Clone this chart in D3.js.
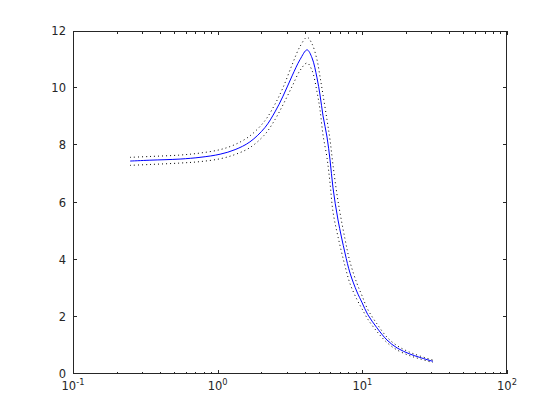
<!DOCTYPE html>
<html>
<head>
<meta charset="utf-8">
<script src="https://cdn.jsdelivr.net/npm/d3@7"></script>
<style>
  html, body { margin: 0; padding: 0; background: #fff; }
  svg { display: block; }
  text { font-family: "DejaVu Sans", sans-serif; fill: #262626; }
</style>
</head>
<body>
<svg id="chart" width="560" height="420"></svg>
<script>
// ---- data ----
const freq = [0.248, 0.340, 0.550, 0.755, 1.04, 1.32, 1.67, 2.12, 2.49, 2.83, 3.27, 3.71, 4.15, 4.49,
  4.86, 5.10, 5.35, 5.70, 5.98, 6.27, 6.79, 7.59, 8.22, 9.19, 9.95, 10.9, 12.6, 14.8, 17.4, 21.3, 25.0, 30.8];
const magnitude = [7.45, 7.48, 7.52, 7.58, 7.69, 7.85, 8.12, 8.62, 9.17, 9.72, 10.43, 11.00, 11.34, 11.06,
  10.36, 9.76, 9.03, 8.29, 7.49, 6.51, 5.39, 4.23, 3.53, 2.87, 2.50, 2.08, 1.62, 1.19, 0.91, 0.70, 0.58, 0.44];
const upperBound = [7.58, 7.61, 7.66, 7.73, 7.85, 8.03, 8.33, 8.86, 9.44, 10.02, 10.82, 11.46, 11.78, 11.55,
  10.99, 10.40, 9.76, 8.89, 8.19, 7.31, 6.05, 4.72, 3.92, 3.16, 2.74, 2.26, 1.76, 1.29, 0.99, 0.76, 0.63, 0.48];
const lowerBound = [7.30, 7.33, 7.38, 7.43, 7.53, 7.68, 7.92, 8.38, 8.90, 9.42, 10.06, 10.62, 10.88, 10.62,
  9.87, 9.24, 8.36, 7.56, 6.68, 5.67, 4.80, 3.78, 3.16, 2.60, 2.28, 1.92, 1.49, 1.10, 0.84, 0.64, 0.53, 0.40];

const xMajorTicks = [0.1, 1, 10, 100];
const xTickExponents = ["-1", "0", "1", "2"];
const yTicks = [0, 2, 4, 6, 8, 10, 12];

// ---- layout ----
const svg = d3.select("#chart");
const L = 73, R = 507, T = 31, B = 374;
const x = d3.scaleLog().domain([0.1, 100]).range([L, R]);
const y = d3.scaleLinear().domain([0, 12]).range([B, T]);
const axisColor = "#262626";
const majorLen = 4.3, minorLen = 2.5;

// minor ticks for log axis
const xMinor = [];
for (let d = 0.1; d < 100; d *= 10) {
  for (let k = 2; k <= 9; k++) xMinor.push(d * k);
}

const g = svg.append("g");

// ---- data lines ----
const lineGen = (vals) => d3.line()
  .x((d, i) => x(freq[i]))
  .y(d => y(d))
  .curve(d3.curveCatmullRom.alpha(0.5))(vals);

g.append("path").attr("d", lineGen(upperBound))
  .attr("fill", "none").attr("stroke", "#000").attr("stroke-width", 1)
  .attr("stroke-dasharray", "1,3");
g.append("path").attr("d", lineGen(lowerBound))
  .attr("fill", "none").attr("stroke", "#000").attr("stroke-width", 1)
  .attr("stroke-dasharray", "1,3");
g.append("path").attr("d", lineGen(magnitude))
  .attr("fill", "none").attr("stroke", "#0000ff").attr("stroke-width", 1);

// ---- axes (box with inward ticks) ----
const ax = svg.append("g").attr("stroke", axisColor).attr("stroke-width", 1).attr("shape-rendering", "crispEdges");
ax.append("rect").attr("x", L + 0.5).attr("y", T + 0.5).attr("width", R - L - 1).attr("height", B - T - 1)
  .attr("fill", "none");

// x ticks: bottom and top
function xTick(v, len) {
  const px = Math.round(x(v)) + 0.5;
  ax.append("line").attr("x1", px).attr("x2", px).attr("y1", B).attr("y2", B - len);
  ax.append("line").attr("x1", px).attr("x2", px).attr("y1", T).attr("y2", T + len);
}
xMajorTicks.forEach(v => xTick(v, majorLen));
xMinor.forEach(v => xTick(v, minorLen));

// y ticks: left and right
yTicks.forEach(v => {
  const py = Math.round(y(v)) - 0.5;
  if (v === 0 || v === 12) return;
  ax.append("line").attr("x1", L).attr("x2", L + majorLen).attr("y1", py).attr("y2", py);
  ax.append("line").attr("x1", R).attr("x2", R - majorLen).attr("y1", py).attr("y2", py);
});

// ---- tick labels ----
const fs = 11.5;
yTicks.forEach(v => {
  svg.append("text")
    .attr("x", L - 7).attr("y", y(v)).attr("dy", "0.36em")
    .attr("text-anchor", "end").attr("font-size", fs)
    .text(d3.format("d")(v));
});

xMajorTicks.forEach((v, i) => {
  const t = svg.append("text")
    .attr("x", x(v)).attr("y", B + 16)
    .attr("text-anchor", "middle").attr("font-size", fs);
  t.append("tspan").text("10");
  t.append("tspan").attr("font-size", fs * 0.72).attr("dy", -5).text(xTickExponents[i]);
});
</script>
</body>
</html>
